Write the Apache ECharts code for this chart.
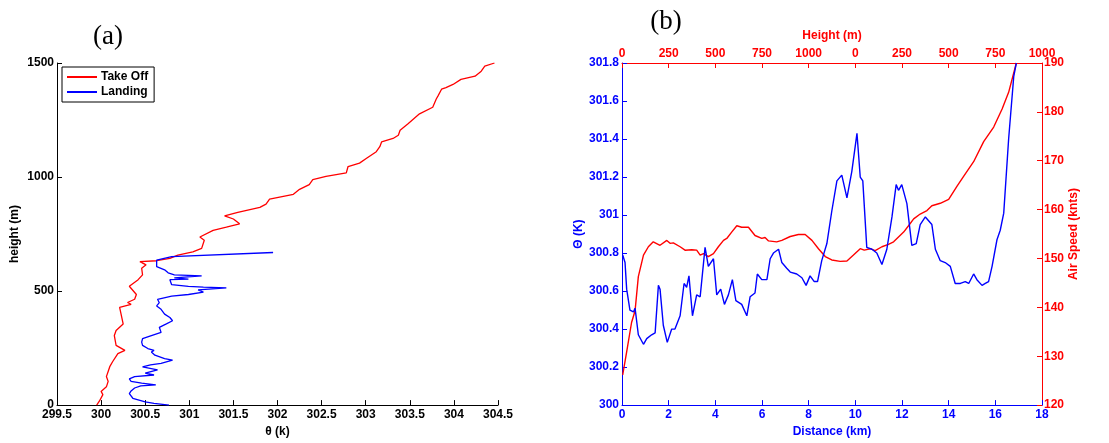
<!DOCTYPE html>
<html><head><meta charset="utf-8">
<script src="https://cdn.jsdelivr.net/npm/echarts@6/dist/echarts.min.js"></script>
<style>html,body{margin:0;padding:0;background:#fff}#c{width:1109px;height:443px}</style>
</head><body><div id="c"></div>
<script>
// ---------- Panel (a) data ----------
const takeOffTheta = [299.95,299.98,300.02,300.00,300.06,300.08,300.06,300.08,300.10,300.13,300.19,300.27,300.17,300.15,300.17,300.25,300.23,300.21,300.34,300.30,300.38,300.40,300.32,300.42,300.47,300.46,300.51,300.44,300.63,300.78,300.87,301.04,301.14,301.12,301.17,301.12,301.27,301.42,301.57,301.50,301.40,301.55,301.80,301.87,301.91,302.18,302.25,302.36,302.40,302.55,302.78,302.80,302.93,303.01,303.12,303.16,303.18,303.31,303.37,303.39,303.48,303.61,303.76,303.80,303.82,303.86,303.91,303.99,304.08,304.24,304.31,304.35,304.46];
const takeOffHeight = [0,17,46,60,80,104,125,147,170,190,226,240,262,305,327,356,392,428,442,450,464,485,521,550,571,600,615,629,633,643,658,672,687,694,723,737,766,780,795,816,830,845,867,881,903,924,946,967,989,1003,1018,1046,1061,1082,1111,1133,1154,1169,1183,1205,1234,1277,1306,1342,1356,1385,1392,1406,1428,1442,1464,1486,1500];
const landingTheta = [300.77,300.60,300.50,300.48,300.36,300.32,300.34,300.38,300.45,300.62,300.46,300.34,300.32,300.38,300.60,300.50,300.48,300.64,300.47,300.56,300.68,300.81,300.72,300.61,300.57,300.60,300.53,300.47,300.46,300.47,300.57,300.68,300.66,300.74,300.81,300.78,300.72,300.68,300.63,300.66,300.64,300.80,300.99,301.16,301.18,301.10,301.42,301.16,300.99,300.80,300.78,300.99,300.83,301.14,300.99,300.83,300.76,300.72,300.63,300.63,300.80,301.95];
const landingHeight = [0,8,14,22,30,50,62,75,84,89,96,104,115,125,132,140,147,154,168,176,183,197,204,219,233,240,248,262,276,291,305,319,341,356,370,384,399,420,435,449,464,478,485,495,500,505,514,517,521,528,550,552,558,567,569,571,580,593,607,636,651,669];

// ---------- Panel (b) data ----------
const thetaDistance = [0.03,0.13,0.2,0.34,0.49,0.56,0.70,0.92,1.06,1.27,1.42,1.56,1.63,1.77,1.94,2.13,2.27,2.49,2.66,2.77,2.87,3.02,3.2,3.35,3.56,3.70,3.92,4.06,4.23,4.39,4.56,4.73,4.88,5.13,5.35,5.49,5.7,5.8,5.99,6.21,6.35,6.49,6.71,6.85,7.06,7.21,7.49,7.71,7.89,8.06,8.24,8.38,8.56,8.78,8.99,9.21,9.42,9.64,9.85,10.07,10.21,10.32,10.49,10.71,10.92,11.14,11.35,11.57,11.75,11.85,11.99,12.21,12.42,12.61,12.78,13.0,13.28,13.43,13.64,13.85,14.07,14.28,14.5,14.71,14.86,15.07,15.21,15.43,15.57,15.71,15.86,16.07,16.21,16.36,16.57,16.79,16.90];
const thetaK = [300.79,300.75,300.61,300.50,300.49,300.51,300.37,300.32,300.35,300.37,300.38,300.63,300.61,300.42,300.33,300.40,300.40,300.47,300.64,300.62,300.68,300.47,300.58,300.57,300.83,300.73,300.77,300.58,300.61,300.53,300.58,300.66,300.55,300.53,300.47,300.57,300.59,300.69,300.66,300.66,300.77,300.80,300.82,300.75,300.72,300.70,300.69,300.67,300.63,300.68,300.65,300.65,300.76,300.85,301.02,301.18,301.21,301.09,301.23,301.43,301.20,301.18,300.83,300.82,300.80,300.74,300.82,300.99,301.16,301.13,301.16,301.06,300.84,300.85,300.95,300.99,300.95,300.82,300.76,300.75,300.73,300.64,300.64,300.65,300.64,300.69,300.66,300.63,300.64,300.65,300.73,300.87,300.92,301.01,301.40,301.73,301.80];
const speedDistance = [0.03,0.2,0.41,0.56,0.70,0.92,1.13,1.34,1.63,1.92,2.06,2.2,2.49,2.70,2.99,3.2,3.35,3.49,3.70,3.92,4.13,4.35,4.49,4.70,4.92,5.13,5.42,5.70,5.99,6.13,6.28,6.63,6.85,7.21,7.56,7.85,8.14,8.42,8.71,8.99,9.35,9.64,9.92,10.21,10.38,10.64,10.85,11.14,11.42,11.64,11.85,12.07,12.28,12.5,12.78,13.07,13.28,13.64,14.0,14.36,14.64,15.07,15.50,15.93,16.29,16.57,16.90];
const airSpeed = [126.2,130.9,136.9,139.3,146.3,150.7,152.4,153.4,152.7,153.7,153.1,153.2,152.4,151.7,151.8,151.7,150.7,151.0,150.4,151.0,152.4,153.7,154.1,155.4,156.7,156.4,156.4,154.7,154.1,154.3,153.6,153.4,153.7,154.5,154.9,154.9,153.7,152.0,150.4,149.7,149.4,149.5,150.7,152.0,151.7,152.0,151.6,152.4,152.9,153.4,154.4,155.4,156.7,158.1,159.1,159.8,160.8,161.3,162.1,164.8,166.8,169.8,173.9,176.9,180.6,184.0,190.0];
const topTickLabels = ['0','250','500','750','1000','0','250','500','750','1000'];

const zip = (a, b) => a.map((v, i) => [v, b[i]]);
const FONT = 'Liberation Sans';
const lbl = (color) => ({color: color, fontSize: 12, fontWeight: 'bold', fontFamily: FONT});
const RED = '#ff0000', BLUE = '#0000ff';
const plain = (v) => String(+v.toFixed(2));

const chart = echarts.init(document.getElementById('c'), null, {renderer: 'canvas'});
chart.setOption({
  animation: false,
  backgroundColor: '#fff',
  title: [
    {text: '(a)', left: 103, top: 18, textAlign: 'center', textStyle: {fontFamily: 'Liberation Serif', fontSize: 27, fontWeight: 'normal', color: '#000'}},
    {text: '(b)', left: 661, top: 3, textAlign: 'center', textStyle: {fontFamily: 'Liberation Serif', fontSize: 27, fontWeight: 'normal', color: '#000'}}
  ],
  legend: {
    data: ['Take Off', 'Landing'], orient: 'vertical', left: 62, top: 67,
    borderColor: '#000', borderWidth: 1, padding: [4, 6, 4, 5], itemGap: 3,
    itemWidth: 30, itemHeight: 2, icon: 'rect',
    textStyle: {fontSize: 12, fontWeight: 'bold', fontFamily: FONT, color: '#000', padding: [0, 0, 0, -1]}
  },
  grid: [
    {left: 57, right: 611, top: 63, bottom: 32},
    {left: 622, right: 67, top: 63, bottom: 32}
  ],
  xAxis: [
    {gridIndex: 0, type: 'value', min: 299.5, max: 304.5, interval: 0.5,
     name: 'θ (k)', nameLocation: 'middle', nameGap: 19, nameTextStyle: lbl('#000'),
     axisLine: {onZero: false, lineStyle: {color: '#000', width: 1}}, axisTick: {inside: true, length: 5, lineStyle: {color: '#000'}},
     axisLabel: Object.assign(lbl('#000'), {margin: 4, formatter: plain}), splitLine: {show: false}},
    {gridIndex: 1, type: 'value', min: 0, max: 18, interval: 2, position: 'bottom',
     name: 'Distance (km)', nameLocation: 'middle', nameGap: 19, nameTextStyle: lbl(BLUE),
     axisLine: {onZero: false, lineStyle: {color: BLUE, width: 1}}, axisTick: {inside: true, length: 5, lineStyle: {color: BLUE}},
     axisLabel: Object.assign(lbl(BLUE), {margin: 4, formatter: plain}), splitLine: {show: false}},
    {gridIndex: 1, type: 'value', min: 0, max: 18, interval: 2, position: 'top',
     name: 'Height (m)', nameLocation: 'middle', nameGap: 21, nameTextStyle: lbl(RED),
     axisLine: {onZero: false, lineStyle: {color: RED, width: 1}}, axisTick: {inside: true, length: 5, lineStyle: {color: RED}},
     axisLabel: Object.assign(lbl(RED), {margin: 3, formatter: (v) => topTickLabels[Math.round(v / 2)]}), splitLine: {show: false}}
  ],
  yAxis: [
    {gridIndex: 0, type: 'value', min: 0, max: 1500, interval: 500,
     name: 'height (m)', nameLocation: 'middle', nameGap: 36, nameRotate: 90, nameTextStyle: lbl('#000'),
     axisLine: {show: true, onZero: false, lineStyle: {color: '#000', width: 1}}, axisTick: {show: true, inside: true, length: 5, lineStyle: {color: '#000'}},
     axisLabel: Object.assign(lbl('#000'), {margin: 3, formatter: plain}), splitLine: {show: false}},
    {gridIndex: 1, type: 'value', min: 300, max: 301.8, interval: 0.2, position: 'left',
     name: 'Θ (K)', nameLocation: 'middle', nameGap: 37, nameRotate: 90, nameTextStyle: lbl(BLUE),
     axisLine: {show: true, onZero: false, lineStyle: {color: BLUE, width: 1}}, axisTick: {show: true, inside: true, length: 5, lineStyle: {color: BLUE}},
     axisLabel: Object.assign(lbl(BLUE), {margin: 3, formatter: plain}), splitLine: {show: false}},
    {gridIndex: 1, type: 'value', min: 120, max: 190, interval: 10, position: 'right',
     name: 'Air Speed (knts)', nameLocation: 'middle', nameGap: 25, nameRotate: 90, nameTextStyle: lbl(RED),
     axisLine: {show: true, onZero: false, lineStyle: {color: RED, width: 1}}, axisTick: {show: true, inside: true, length: 5, lineStyle: {color: RED}},
     axisLabel: Object.assign(lbl(RED), {margin: 2, formatter: plain}), splitLine: {show: false}}
  ],
  series: [
    {name: 'Take Off', type: 'line', xAxisIndex: 0, yAxisIndex: 0, data: zip(takeOffTheta, takeOffHeight),
     showSymbol: false, color: RED, lineStyle: {color: RED, width: 1.3}},
    {name: 'Landing', type: 'line', xAxisIndex: 0, yAxisIndex: 0, data: zip(landingTheta, landingHeight),
     showSymbol: false, color: BLUE, lineStyle: {color: BLUE, width: 1.3}},
    {name: 'theta', type: 'line', xAxisIndex: 1, yAxisIndex: 1, data: zip(thetaDistance, thetaK),
     showSymbol: false, color: BLUE, lineStyle: {color: BLUE, width: 1.4}, z: 3},
    {name: 'speed', type: 'line', xAxisIndex: 1, yAxisIndex: 2, data: zip(speedDistance, airSpeed),
     showSymbol: false, color: RED, lineStyle: {color: RED, width: 1.4}, z: 2}
  ]
});
</script></body></html>
